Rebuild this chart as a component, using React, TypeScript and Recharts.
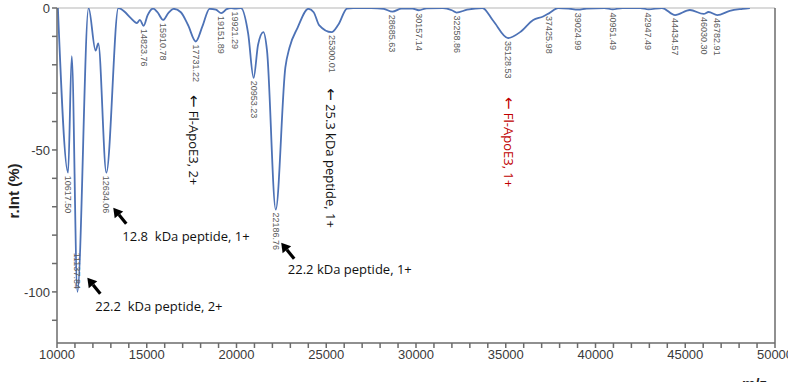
import React from "react";
import { LineChart, Line, XAxis, YAxis, ReferenceLine, ReferenceDot, LabelList } from "recharts";

// spectrum trace (m/z vs relative intensity, plotted downward)
const mzValues = [
  10050, 10617.5, 10820, 11137.84, 11760, 12150, 12300, 12750, 13420, 13800,
  14100, 14450, 14620, 14823.76, 15050, 15350, 15600, 15910.78, 16200, 16500,
  16900, 17300, 17731.22, 18100, 18500, 18850, 19151.89, 19450, 19700, 19921.29,
  20250, 20650, 20953.23, 21200, 21500, 21700, 22186.76, 22720, 22950, 23400,
  24000, 24300, 24600, 25300.01, 25660, 26160, 26500, 27500, 28200, 28685.63,
  29200, 29800, 30157.14, 30600, 31500, 32000, 32258.86, 32850, 33700, 34300,
  35128.53, 35800, 36530, 37080, 37425.98, 37920, 38500, 39024.99, 39500, 40500,
  40951.49, 41500, 42500, 42947.49, 43700, 44434.57, 45260, 46030.3, 46300, 46782.91,
  47480, 48200, 48600,
];
const intensities = [
  0, -58, -17, -100, 0, -15, -12.5, -58, 0, -1.5,
  -3.5, -5.3, -4.2, -6.3, -2.5, -0.2, -1.5, -4.2, -1.8, -0.3,
  -1.5, -6, -11.8, -6.5, -0.3, -0.6, -1.8, -0.4, 0, -0.2,
  0, -9, -24.6, -13, -8.5, -15, -71, -21, -14, -7,
  -0.3, -1.5, -6, -8.5, -6, -0.2, 0, 0, -0.3, -1.3,
  -0.2, -0.2, -0.8, -0.1, 0, -0.8, -1.6, -0.6, 0, -4.5,
  -10.6, -8.5, -4.2, -3, -1.8, 0, -0.2, -0.6, -0.2, 0,
  -0.5, 0, 0, -0.5, 0, -2.5, -0.7, -2.1, -1.4, -2.5,
  -1, -0.3, 0,
];

// peak annotations from the instrument software
const peakMz = [
  10617.5, 11137.84, 12750, 14823.76, 15910.78, 17731.22, 19151.89, 19921.29,
  20953.23, 22186.76, 25300.01, 28685.63, 30157.14, 32258.86, 35128.53, 37425.98,
  39024.99, 40951.49, 42947.49, 44434.57, 46030.3, 46782.91,
];
const peakNames = [
  "10617.50", "11137.84", "12634.06", "14823.76", "15910.78", "17731.22", "19151.89", "19921.29",
  "20953.23", "22186.76", "25300.01", "28685.63", "30157.14", "32258.86", "35128.53", "37425.98",
  "39024.99", "40951.49", "42947.49", "44434.57", "46030.30", "46782.91",
];

const xMajorTicks = [10000, 15000, 20000, 25000, 30000, 35000, 40000, 45000, 50000];
const xTicks = Array.from({ length: 41 }, (_, i) => 10000 + i * 1000);
const yMajorTicks = [-100, -50, 0];
const yTicks = [-110, -100, -90, -80, -70, -60, -50, -40, -30, -20, -10, 0];

// callouts: arrow heads and texts (data coordinates)
const arrowMz = [13135, 11690, 22490];
const arrowValue = [-70.4, -95, -82.7];

const noteMz = [13640, 12130, 22860, 17650, 25250, 35200];
const noteValue = [-80.3, -105, -91.9, -30.6, -28.2, -31.3];
const noteText = [
  "12.8  kDa peptide, 1+",
  "22.2  kDa peptide, 2+",
  "22.2 kDa peptide, 1+",
  "\u2190 Fl-ApoE3, 2+",
  "\u2190 25.3 kDa peptide, 1+",
  "\u2190 Fl-ApoE3, 1+",
];
const noteVertical = [false, false, false, true, true, true];
const noteColor = ["#111", "#111", "#111", "#111", "#111", "#c00000"];

const data = mzValues.map((m, i) => {
  const k = peakMz.indexOf(m);
  return { mz: m, value: intensities[i], tag: k >= 0 ? peakNames[k] : undefined };
});

const LINE = "#4d72b6";
const AXIS = "#6b6b6b";

const renderTag = (props: any) => {
  const { x, y, value } = props;
  if (!value) return null;
  const deep = Number(y) > 270;
  return (
    <text
      x={x}
      y={y}
      dx={deep ? -3 : 3}
      transform={`rotate(90, ${x}, ${y})`}
      textAnchor={deep ? "end" : "start"}
      dominantBaseline="central"
      fontSize={9}
      fontFamily="'Liberation Sans', Arial, sans-serif"
      fill="#5a5a5a"
    >
      {value}
    </text>
  );
};

const arrowShape = (props: any) => {
  const { cx, cy } = props;
  const tx = cx + 13;
  const ty = cy + 16;
  const len = Math.hypot(cx - tx, cy - ty);
  const ux = (cx - tx) / len;
  const uy = (cy - ty) / len;
  const bx = cx - ux * 9;
  const by = cy - uy * 9;
  return (
    <g>
      <line x1={tx} y1={ty} x2={bx} y2={by} stroke="#000" strokeWidth={3.2} />
      <polygon
        points={`${cx},${cy} ${bx - uy * 5.5},${by + ux * 5.5} ${bx + uy * 5.5},${by - ux * 5.5}`}
        fill="#000"
      />
    </g>
  );
};

const noteShape = (i: number) => (props: any) => {
  const { cx, cy } = props;
  const txt = noteText[i];
  const hasArrow = txt.startsWith("\u2190");
  return (
    <text
      x={cx}
      y={cy}
      transform={noteVertical[i] ? `rotate(90, ${cx}, ${cy})` : undefined}
      textAnchor="start"
      dominantBaseline="central"
      xmlSpace="preserve"
      style={{ whiteSpace: "pre" }}
      fontSize={13}
      fontFamily="'Open Sans', 'Noto Sans', sans-serif"
      fill={noteColor[i]}
    >
      {hasArrow ? (
        <>
          <tspan fontFamily="'DejaVu Sans'" fontSize={15}>{"\u2190"}</tspan>
          {txt.slice(1)}
        </>
      ) : (
        txt
      )}
    </text>
  );
};

export default function App() {
  return (
    <div style={{ position: "absolute", left: 0, top: 0, background: "#fff" }}>
      <LineChart width={788} height={382} data={data} margin={{ top: 8, right: 13, left: 0, bottom: 9 }}>
        <XAxis
          dataKey="mz"
          type="number"
          domain={[10000, 50000]}
          ticks={xTicks}
          interval={0}
          allowDataOverflow
          tickFormatter={(v: number) => (xMajorTicks.includes(v) ? String(v) : "")}
          stroke={AXIS}
          strokeWidth={1.5}
          tickSize={5}
          height={30}
          tick={{ fill: "#3a3a3a", fontSize: 13, fontFamily: "'Liberation Sans', Arial, sans-serif" }}
          label={{
            content: () => (
              <text x={742} y={389} fontSize={15} fontWeight="bold" fontFamily="'Liberation Sans', Arial, sans-serif" fill="#222">
                m/z
              </text>
            ),
          }}
        />
        <YAxis
          type="number"
          domain={[-118, 0]}
          ticks={yTicks}
          interval={0}
          allowDataOverflow
          tickFormatter={(v: number) => (yMajorTicks.includes(v) ? String(v) : "")}
          stroke={AXIS}
          strokeWidth={1.5}
          tickSize={5}
          width={57}
          tick={{ fill: "#3a3a3a", fontSize: 13, fontFamily: "'Liberation Sans', Arial, sans-serif" }}
          label={{
            content: () => (
              <text
                x={13}
                y={191}
                transform="rotate(-90, 13, 191)"
                textAnchor="middle"
                dominantBaseline="central"
                fontSize={15}
                fontWeight="bold"
                fontFamily="'Liberation Sans', Arial, sans-serif"
                fill="#222"
              >
                r.Int (%)
              </text>
            ),
          }}
        />
        <ReferenceLine y={0} stroke="#b5b5b5" strokeWidth={1} />
        <ReferenceLine x={50000} stroke={AXIS} strokeWidth={1.5} />
        <Line
          dataKey="value"
          type="monotone"
          stroke={LINE}
          strokeWidth={1.8}
          dot={false}
          isAnimationActive={false}
        >
          <LabelList dataKey="tag" content={renderTag} />
        </Line>
        {arrowMz.map((m, i) => (
          <ReferenceDot key={`a${i}`} x={m} y={arrowValue[i]} r={0} shape={arrowShape} />
        ))}
        {noteMz.map((m, i) => (
          <ReferenceDot key={`n${i}`} x={m} y={noteValue[i]} r={0} shape={noteShape(i)} />
        ))}
      </LineChart>
    </div>
  );
}
